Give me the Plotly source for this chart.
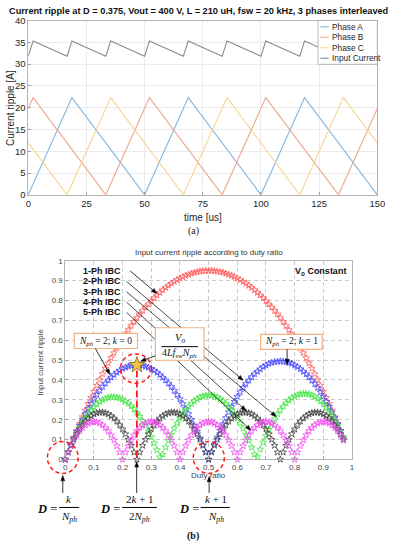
import math
import plotly.graph_objects as go

# ---------------- data : (a) phase currents (vertices) -------------
phase_a_t = [0, 18.75, 50, 68.75, 100, 118.75, 150]
phase_a_i = [0, 22.3, 0, 22.3, 0, 22.3, 0]
phase_b_t = [0, 2.08, 33.33, 52.08, 83.33, 102.08, 133.33, 150]
phase_b_i = [19.8, 22.3, 0, 22.3, 0, 22.3, 0, 19.8]
phase_c_t = [0, 16.67, 35.42, 66.67, 85.42, 116.67, 135.42, 150]
phase_c_i = [11.9, 0, 22.3, 0, 22.3, 0, 22.3, 11.9]
input_t = [0, 2.08, 16.67, 18.75, 33.33, 35.42, 50, 52.08, 66.67, 68.75,
           83.33, 85.42, 100, 102.08, 116.67, 118.75, 133.33, 135.42, 150]
input_i = [31.8, 35.3, 31.8, 35.3, 31.8, 35.3, 31.8, 35.3, 31.8, 35.3,
           31.8, 35.3, 31.8, 35.3, 31.8, 35.3, 31.8, 35.3, 31.8]
time_ticks = [0, 25, 50, 75, 100, 125, 150]
legend_names = ["Phase A", "Phase B", "Phase C", "Input Current"]

# ---------------- data : (b) input current ripple vs duty ratio -----------------------
duty = [0.00, 0.01, 0.02, 0.03, 0.04, 0.05, 0.06, 0.07, 0.08, 0.09,
        0.10, 0.11, 0.12, 0.13, 0.14, 0.15, 0.16, 0.17, 0.18, 0.19,
        0.20, 0.21, 0.22, 0.23, 0.24, 0.25, 0.26, 0.27, 0.28, 0.29,
        0.30, 0.31, 0.32, 0.33, 0.34, 0.35, 0.36, 0.37, 0.38, 0.39,
        0.40, 0.41, 0.42, 0.43, 0.44, 0.45, 0.46, 0.47, 0.48, 0.49,
        0.50, 0.51, 0.52, 0.53, 0.54, 0.55, 0.56, 0.57, 0.58, 0.59,
        0.60, 0.61, 0.62, 0.63, 0.64, 0.65, 0.66, 0.67, 0.68, 0.69,
        0.70, 0.71, 0.72, 0.73, 0.74, 0.75, 0.76, 0.77, 0.78, 0.79,
        0.80, 0.81, 0.82, 0.83, 0.84, 0.85, 0.86, 0.87, 0.88, 0.89,
        0.90, 0.91, 0.92, 0.93, 0.94, 0.95, 0.96, 0.97]
ripple_1ph = [0, .038, .074, .111, .146, .181, .214, .247, .280, .311,
              .342, .372, .401, .430, .458, .485, .511, .536, .561, .585,
              .608, .630, .652, .673, .693, .713, .731, .749, .766, .782,
              .798, .813, .827, .840, .853, .865, .876, .886, .895, .904,
              .912, .919, .926, .931, .936, .941, .944, .947, .949, .950,
              .950, .950, .949, .947, .944, .941, .936, .931, .926, .919,
              .912, .904, .895, .886, .876, .865, .853, .840, .827, .813,
              .798, .782, .766, .749, .731, .713, .693, .673, .652, .630,
              .608, .585, .561, .536, .511, .485, .458, .430, .401, .372,
              .342, .311, .280, .247, .214, .181, .146, .111]
ripple_2ph = [0, .037, .073, .107, .140, .171, .201, .229, .255, .280,
              .304, .326, .347, .366, .383, .399, .413, .426, .438, .448,
              .456, .463, .468, .472, .474, .475, .474, .472, .468, .463,
              .456, .448, .438, .426, .413, .399, .383, .366, .347, .326,
              .304, .280, .255, .229, .201, .171, .140, .107, .073, .037,
              0, .039, .076, .111, .145, .178, .209, .238, .266, .291,
              .316, .339, .361, .381, .398, .415, .430, .443, .455, .466,
              .474, .482, .487, .491, .493, .494, .493, .491, .487, .482,
              .474, .466, .455, .443, .430, .415, .398, .381, .361, .339,
              .316, .291, .266, .238, .209, .178, .145, .111]
ripple_3ph = [0, .037, .071, .103, .133, .160, .186, .209, .229, .248,
              .264, .278, .290, .299, .306, .311, .314, .314, .312, .308,
              .302, .293, .282, .269, .254, .236, .216, .194, .169, .142,
              .113, .082, .048, .012, .025, .061, .095, .126, .156, .182,
              .207, .229, .249, .266, .281, .294, .304, .313, .318, .322,
              .323, .322, .318, .313, .304, .294, .281, .266, .249, .229,
              .207, .182, .156, .126, .095, .061, .025, .013, .051, .086,
              .119, .150, .178, .204, .228, .249, .267, .284, .298, .309,
              .318, .325, .329, .331, .331, .328, .323, .316, .306, .293,
              .279, .261, .242, .220, .196, .169, .140, .109]
ripple_4ph = [0, .036, .070, .100, .128, .152, .173, .192, .207, .219,
              .228, .234, .237, .237, .234, .228, .219, .207, .192, .173,
              .152, .128, .100, .070, .036, 0, .036, .070, .100, .128,
              .152, .173, .192, .207, .219, .228, .234, .237, .237, .234,
              .228, .219, .207, .192, .173, .152, .128, .100, .070, .036,
              0, .036, .070, .100, .128, .152, .173, .192, .207, .219,
              .228, .234, .237, .237, .234, .228, .219, .207, .192, .173,
              .152, .128, .100, .070, .036, 0, .036, .070, .100, .128,
              .152, .173, .192, .207, .219, .228, .234, .237, .237, .234,
              .228, .219, .207, .192, .173, .152, .128, .100]
ripple_5ph = [0, .036, .068, .097, .122, .143, .160, .173, .182, .188,
              .190, .188, .182, .173, .160, .143, .122, .097, .068, .036,
              0, .036, .068, .097, .122, .143, .160, .173, .182, .188,
              .190, .188, .182, .173, .160, .143, .122, .097, .068, .036,
              0, .036, .068, .097, .122, .143, .160, .173, .182, .188,
              .190, .188, .182, .173, .160, .143, .122, .097, .068, .036,
              0, .036, .068, .097, .122, .143, .160, .173, .182, .188,
              .190, .188, .182, .173, .160, .143, .122, .097, .068, .036,
              0, .036, .068, .097, .122, .143, .160, .173, .182, .188,
              .190, .188, .182, .173, .160, .143, .122, .097]
star_duty = [0.25]
star_ripple = [0.475]
series_labels = ["1-Ph IBC", "2-Ph IBC", "3-Ph IBC", "4-Ph IBC", "5-Ph IBC"]

# ---------------- helpers (pixel -> paper) ----------------
W, H = 396, 550
def px(x): return x / W
def py(y): return 1 - y / H

SANS = "Liberation Sans, Arial, sans-serif"
SERIF = "Liberation Serif, Times New Roman, serif"

fig = go.Figure()

top_colors = ["#80b6e0", "#eea68a", "#f6d68e", "#8a8a8a"]
for t, v, c in [(phase_a_t, phase_a_i, top_colors[0]), (phase_b_t, phase_b_i, top_colors[1]),
                (phase_c_t, phase_c_i, top_colors[2]), (input_t, input_i, top_colors[3])]:
    fig.add_trace(go.Scatter(x=t, y=v, mode="lines", line=dict(color=c, width=1.1),
                             xaxis="x", yaxis="y", showlegend=False, hoverinfo="skip",
                             cliponaxis=False))

bot_colors = ["#ff5a5a", "#4646ff", "#3ce43c", "#404040", "#f446f4"]
for vals, c in zip([ripple_1ph, ripple_2ph, ripple_3ph, ripple_4ph, ripple_5ph], bot_colors):
    fig.add_trace(go.Scatter(x=duty, y=vals, mode="markers",
                             marker=dict(symbol="star-open", size=5, color=c, line=dict(width=0.8, color=c)),
                             xaxis="x2", yaxis="y2", showlegend=False, hoverinfo="skip",
                             cliponaxis=False))
fig.add_trace(go.Scatter(x=star_duty, y=star_ripple, mode="markers",
                         marker=dict(symbol="star", size=12, color="#f6c443",
                                     line=dict(width=0.8, color="#8a6a10")),
                         xaxis="x2", yaxis="y2", showlegend=False, hoverinfo="skip",
                         cliponaxis=False))

shapes = []
annotations = []

def ann(x, y, text, size=9, color="#222", family=SANS, xanchor="center", angle=0):
    annotations.append(dict(x=px(x), y=py(y), xref="paper", yref="paper", text=text,
                            showarrow=False, xanchor=xanchor, yanchor="middle",
                            textangle=angle, font=dict(size=size, color=color, family=family)))

def line(x0, y0, x1, y1, color="black", width=0.8, dash="solid"):
    shapes.append(dict(type="line", xref="paper", yref="paper", x0=px(x0), y0=py(y0),
                       x1=px(x1), y1=py(y1), line=dict(color=color, width=width, dash=dash),
                       layer="above"))

def rect(x0, y0, x1, y1, color, width=1.0, fill="white"):
    shapes.append(dict(type="rect", xref="paper", yref="paper", x0=px(x0), y0=py(y1),
                       x1=px(x1), y1=py(y0), line=dict(color=color, width=width),
                       fillcolor=fill, layer="above"))

def circle(x0, y0, x1, y1):
    shapes.append(dict(type="circle", xref="paper", yref="paper", x0=px(x0), y0=py(y1),
                       x1=px(x1), y1=py(y0), line=dict(color="#ff1a1a", width=1.5, dash="4px,3px"),
                       layer="above"))

def arrowhead(hx, hy, tx, ty, length=5.5, half=2.0):
    dx, dy = hx - tx, hy - ty
    L = math.hypot(dx, dy)
    ux, uy = dx / L, dy / L
    bx, by = hx - length * ux, hy - length * uy
    p1 = (bx - half * uy, by + half * ux)
    p2 = (bx + half * uy, by - half * ux)
    path = "M {} {} L {} {} L {} {} Z".format(px(hx), py(hy), px(p1[0]), py(p1[1]), px(p2[0]), py(p2[1]))
    shapes.append(dict(type="path", xref="paper", yref="paper", path=path,
                       fillcolor="black", line=dict(color="black", width=0.5), layer="above"))
    return bx, by

def arrow(hx, hy, tx, ty, width=0.8):
    bx, by = arrowhead(hx, hy, tx, ty)
    line(tx, ty, bx, by, width=width)

# ---------- (a) texts ----------
ann(201, 4.6, "<b>Current ripple at D = 0.375, Vout = 400 V, L = 210 uH, fsw = 20 kHz, 3 phases interleaved</b>",
    size=9.2, color="#111")
ann(7.5, 103.7, "Current ripple [A]", size=10, angle=-90, color="#262626")
ann(205.5, 216, "time [us]", size=10, color="#262626")
ann(196, 230, "(a)", size=10, family=SERIF, color="#222")

# manual legend
rect(324, 14.7, 385, 59.5, "#a8a8a8", width=0.8)
for k, (name, c) in enumerate(zip(legend_names, top_colors)):
    yy = 21.2 + k * 10.7
    line(326.5, yy, 335, yy, color=c, width=1.1)
    ann(336.3, yy, name, size=8.3, color="#262626", xanchor="left")

# ---------- (b) texts ----------
ann(211.5, 252, "Input current ripple according to duty ratio", size=8, color="#333")
ann(39, 363, "Input current ripple", size=8, angle=-90, color="#444")
ann(211.5, 479.5, "Duty ratio", size=8, color="#444")

label_y = [270.5, 281.0, 291.6, 302.1, 312.6]
for lab, yy in zip(series_labels, label_y):
    ann(123, yy, "<b>" + lab + "</b>", size=9, color="#111", xanchor="right")
ann(355, 270.7, "<b>V<sub>o</sub> Constant</b>", size=9, color="#111", xanchor="right")

# leader lines (1..5 Ph); 2..5 pass behind the V_o box
arrow(158.3, 293.3, 130.7, 270.3)
heads = [(247, 382), (281, 419), (250, 413), (255, 433)]
for yy, (hx, hy) in zip(label_y[1:], heads):
    arrow(hx, hy, 127, yy, width=0.7)

# boxes (drawn after the leader lines so they hide them)
box_col = "#f4b183"
rect(73.3, 334, 138.3, 349.5, box_col, width=1.2)
ann(105.8, 341.9, "<i>N</i><sub><i>ph</i></sub> = 2; <i>k</i> = 0", size=9.5, family=SERIF, color="#111")
rect(265, 335, 328.3, 350.3, box_col, width=1.2)
ann(296.7, 342.7, "<i>N</i><sub><i>ph</i></sub> = 2; <i>k</i> = 1", size=9.5, family=SERIF, color="#111")
rect(156.7, 328.3, 206.7, 361.5, box_col, width=1.2)
line(163, 347.6, 200.5, 347.6, width=1)
ann(181.7, 339.2, "<i>V</i><sub><i>o</i></sub>", size=10.5, family=SERIF, color="#111")
ann(181.7, 354.8, "4<i>Lf</i><sub><i>sw</i></sub><i>N</i><sub><i>ph</i></sub>", size=10, family=SERIF, color="#111")

arrow(110, 376, 95, 349.5)
arrow(292.2, 366, 292.2, 350.3)
arrow(141.5, 362.5, 156.7, 357)

# red dashed circles and vertical line
circle(120.7, 355, 152.7, 385)
circle(45.7, 444.5, 77.3, 477)
circle(195.7, 444.5, 227.7, 477)
line(137.7, 372, 137.7, 462.7, color="#ff1a1a", width=1.8, dash="7px,3px")

# arrows under the axis
arrow(61.5, 479, 61.5, 497)
arrow(137.5, 465, 137.5, 497)
arrow(212, 480, 212, 497)

# equations
ann(45, 513.5, "<b><i>D</i></b> =", size=12.5, family=SERIF, color="#111")
ann(68, 503, "<i>k</i>", size=11, family=SERIF, color="#111")
line(57.7, 511.7, 78.3, 511.7, width=1)
ann(68, 521.5, "<i>N</i><sub><i>ph</i></sub>", size=11, family=SERIF, color="#111")

ann(110, 513.5, "<b><i>D</i></b> =", size=12.5, family=SERIF, color="#111")
ann(140.5, 503, "2<i>k</i> + 1", size=11, family=SERIF, color="#111")
line(122.7, 511.7, 158.3, 511.7, width=1)
ann(140.5, 521.5, "2<i>N</i><sub><i>ph</i></sub>", size=11, family=SERIF, color="#111")

ann(191, 513.5, "<b><i>D</i></b> =", size=12.5, family=SERIF, color="#111")
ann(219, 503, "<i>k</i> + 1", size=11, family=SERIF, color="#111")
line(203.3, 511.7, 233.3, 511.7, width=1)
ann(219, 521.5, "<i>N</i><sub><i>ph</i></sub>", size=11, family=SERIF, color="#111")

ann(195, 541, "<b>(b)</b>", size=10, family=SERIF, color="#111")

top_axis = dict(showgrid=True, gridcolor="#e6e6e6", gridwidth=0.8, showline=True, linecolor="#a0a0a0",
                linewidth=0.8, mirror=True, ticks="inside", ticklen=3, tickcolor="#a0a0a0",
                zeroline=False, tickfont=dict(size=9.5, color="#262626", family=SANS))
bot_axis = dict(showgrid=True, gridcolor="#bdbdbd", gridwidth=0.8, griddash="4px,3px", showline=True,
                linecolor="#a0a0a0", linewidth=0.8, mirror=True, ticks="inside", ticklen=3,
                tickcolor="#a0a0a0", zeroline=False, tickfont=dict(size=8, color="#4a4a4a", family=SANS))

fig.update_layout(
    width=W, height=H, margin=dict(l=0, r=0, t=0, b=0),
    paper_bgcolor="white", plot_bgcolor="white", showlegend=False,
    xaxis=dict(domain=[px(26), px(385)], range=[0, 150], tickvals=time_ticks, anchor="y", **top_axis),
    yaxis=dict(domain=[py(192.7), py(14.7)], range=[0, 40], dtick=5, anchor="x", **top_axis),
    xaxis2=dict(domain=[px(64), px(359)], range=[0, 1], dtick=0.1, anchor="y2", **bot_axis),
    yaxis2=dict(domain=[py(462.7), py(260)], range=[0, 1], dtick=0.1, anchor="x2", **bot_axis),
    shapes=shapes, annotations=annotations,
)

fig.write_html("out.html", config={"displayModeBar": False, "staticPlot": True},
               post_script="document.body.style.margin='0';document.body.style.overflow='hidden';")
